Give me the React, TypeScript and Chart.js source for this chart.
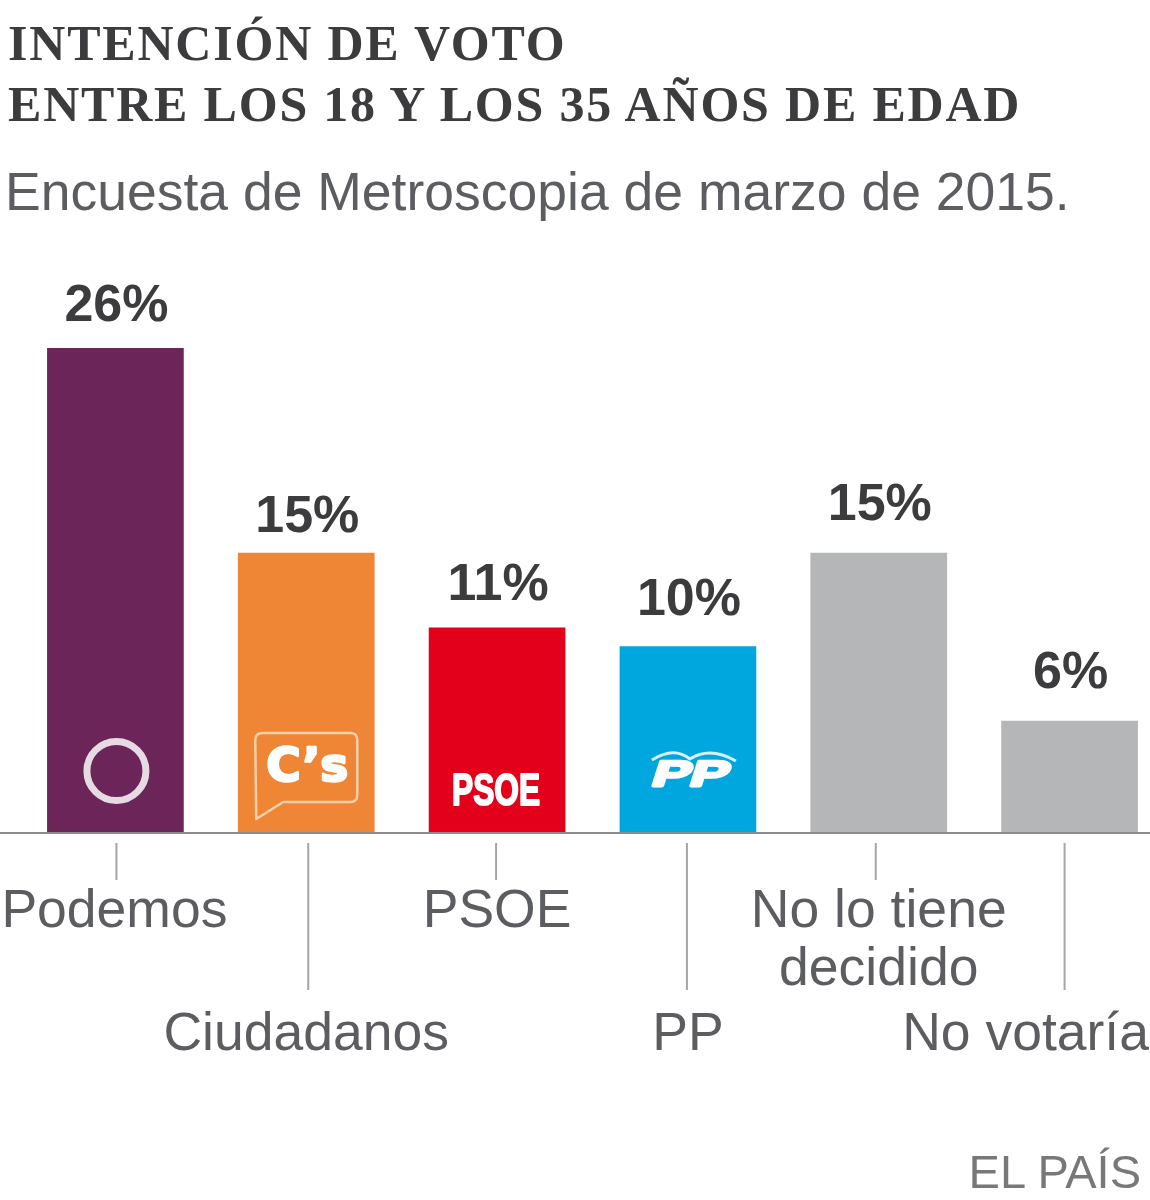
import { useEffect, useRef } from "react";
import { Chart, registerables } from "chart.js";
import type { Plugin } from "chart.js";

Chart.register(...registerables);

const parties = ["Podemos", "Ciudadanos", "PSOE", "PP", "No lo tiene decidido", "No votaría"];
const votes = [26, 15, 11, 10, 15, 6];
const barColors = ["#6b2558", "#ef8636", "#e2001a", "#00a7de", "#b5b6b8", "#b5b6b8"];

// drawing tweaks for the labels, kept apart from the values
const valueLift = [41, 36, 42, 46, 48, 47];
const tickLines = [
  ["Podemos"],
  ["Ciudadanos"],
  ["PSOE"],
  ["PP"],
  ["No lo tiene", "decidido"],
  ["No votaría"],
];
const tickRows = [912, 1035, 912, 1035, 912, 1035];
const tickShift = [-1, 0, 0, 0, 0, -44];
const leaderEnd = [880, 990, 880, 990, 880, 990];
const leaderShift = [1, 2, -1, -1, -3, -5];

const GREY = "#5c5d60";
const SANS = '"Liberation Sans", Arial, sans-serif';

function drawLogos(ctx: CanvasRenderingContext2D, xs: number[], base: number) {
  ctx.save();
  ctx.fillStyle = "#fff";
  ctx.textAlign = "center";
  ctx.textBaseline = "middle";
  ctx.lineJoin = "round";

  // Podemos
  ctx.strokeStyle = "#e6dbe3";
  ctx.lineWidth = 7;
  ctx.beginPath();
  ctx.arc(xs[0] + 1, base - 62, 29.5, 0, Math.PI * 2);
  ctx.stroke();

  // Ciudadanos
  const cx = xs[1];
  ctx.strokeStyle = "#f9cfa8";
  ctx.lineWidth = 2.5;
  ctx.beginPath();
  ctx.moveTo(cx - 43, base - 100);
  ctx.lineTo(cx + 44, base - 100);
  ctx.quadraticCurveTo(cx + 51, base - 100, cx + 51, base - 93);
  ctx.lineTo(cx + 51, base - 38);
  ctx.quadraticCurveTo(cx + 51, base - 31, cx + 44, base - 31);
  ctx.lineTo(cx - 23, base - 31);
  ctx.lineTo(cx - 50, base - 14);
  ctx.lineTo(cx - 51, base - 93);
  ctx.quadraticCurveTo(cx - 51, base - 100, cx - 43, base - 100);
  ctx.stroke();
  ctx.strokeStyle = "#fff";
  ctx.lineWidth = 2.5;
  ctx.font = 'bold 47px "DejaVu Sans"';
  ctx.strokeText("C’s", cx + 1, base - 64);
  ctx.fillText("C’s", cx + 1, base - 64);

  // PSOE
  ctx.save();
  ctx.translate(xs[2] - 1, base - 40);
  ctx.scale(0.72, 1);
  ctx.font = `bold 44px ${SANS}`;
  ctx.lineWidth = 2;
  ctx.strokeText("PSOE", 0, 0);
  ctx.fillText("PSOE", 0, 0);
  ctx.restore();

  // PP
  ctx.save();
  ctx.translate(xs[3] + 3, base - 57);
  ctx.transform(1.5, 0, -0.3, 0.95, 0, 0);
  ctx.font = `bold 38px ${SANS}`;
  ctx.lineWidth = 3;
  ctx.strokeText("PP", 0, 0);
  ctx.fillText("PP", 0, 0);
  ctx.restore();
  ctx.strokeStyle = "#d8f0f9";
  ctx.lineWidth = 3;
  ctx.beginPath();
  ctx.moveTo(xs[3] - 36, base - 73);
  ctx.quadraticCurveTo(xs[3] - 14, base - 87, xs[3] + 2, base - 74);
  ctx.quadraticCurveTo(xs[3] + 22, base - 87, xs[3] + 48, base - 72);
  ctx.stroke();
  ctx.restore();
}

const decorations: Plugin<"bar"> = {
  id: "decorations",
  afterDatasetsDraw(chart) {
    const { ctx, scales } = chart;
    const base = scales.y.getPixelForValue(0);
    const xs = votes.map((_, i) => scales.x.getPixelForValue(i));

    ctx.save();
    // baseline runs the whole width of the picture
    ctx.strokeStyle = "#8b8c8e";
    ctx.lineWidth = 2;
    ctx.beginPath();
    ctx.moveTo(0, base);
    ctx.lineTo(chart.width, base);
    ctx.stroke();

    votes.forEach((v, i) => {
      ctx.fillStyle = "#3c3c3e";
      ctx.font = `bold 52px ${SANS}`;
      ctx.textAlign = "center";
      ctx.textBaseline = "middle";
      ctx.fillText(`${v}%`, xs[i] + 1, scales.y.getPixelForValue(v) - valueLift[i]);

      ctx.strokeStyle = "#a4a5a7";
      ctx.lineWidth = 2;
      ctx.beginPath();
      ctx.moveTo(xs[i] + leaderShift[i], base + 10);
      ctx.lineTo(xs[i] + leaderShift[i], leaderEnd[i]);
      ctx.stroke();

      ctx.fillStyle = GREY;
      ctx.font = `53.5px ${SANS}`;
      tickLines[i].forEach((line, k) => {
        ctx.fillText(line, xs[i] + tickShift[i], tickRows[i] + k * 58);
      });
    });
    ctx.restore();

    drawLogos(ctx, xs, base);
  },
};

export default function App() {
  const canvasRef = useRef<HTMLCanvasElement>(null);

  useEffect(() => {
    if (!canvasRef.current) return;

    const chart = new Chart(canvasRef.current, {
      type: "bar",
      data: {
        labels: parties,
        datasets: [
          {
            data: votes,
            backgroundColor: barColors,
            borderWidth: 0,
            barThickness: 136,
          },
        ],
      },
      options: {
        responsive: false,
        animation: false,
        layout: { padding: { left: 20, right: 0, top: 348, bottom: 367 } },
        scales: {
          x: { display: false },
          y: { display: false, min: 0, max: 26 },
        },
        plugins: {
          legend: { display: false },
          tooltip: { enabled: false },
        },
      },
      plugins: [decorations],
    });

    return () => {
      chart.destroy();
    };
  }, []);

  const titleStyle: React.CSSProperties = {
    position: "absolute",
    left: 8,
    margin: 0,
    fontFamily: '"Liberation Serif", serif',
    fontWeight: 700,
    fontSize: 50,
    letterSpacing: 1.8,
    lineHeight: "60px",
    color: "#3c3c3e",
    whiteSpace: "nowrap",
  };

  return (
    <div
      style={{
        position: "absolute",
        left: 0,
        top: 0,
        width: 1150,
        height: 1200,
        overflow: "hidden",
        background: "#fff",
      }}
    >
      <canvas ref={canvasRef} width={1165} height={1200} style={{ position: "absolute", left: 0, top: 0 }} />
      <div style={{ ...titleStyle, top: 13 }}>INTENCIÓN DE VOTO</div>
      <div style={{ ...titleStyle, top: 74 }}>ENTRE LOS 18 Y LOS 35 AÑOS DE EDAD</div>
      <div
        style={{
          position: "absolute",
          left: 5,
          top: 162,
          fontFamily: SANS,
          fontSize: 53.5,
          lineHeight: "60px",
          color: GREY,
          whiteSpace: "nowrap",
        }}
      >
        Encuesta de Metroscopia de marzo de 2015.
      </div>
      <div
        style={{
          position: "absolute",
          right: 9,
          top: 1146,
          fontFamily: SANS,
          fontSize: 47,
          lineHeight: "52px",
          color: "#77787a",
          whiteSpace: "nowrap",
        }}
      >
        EL PAÍS
      </div>
    </div>
  );
}
